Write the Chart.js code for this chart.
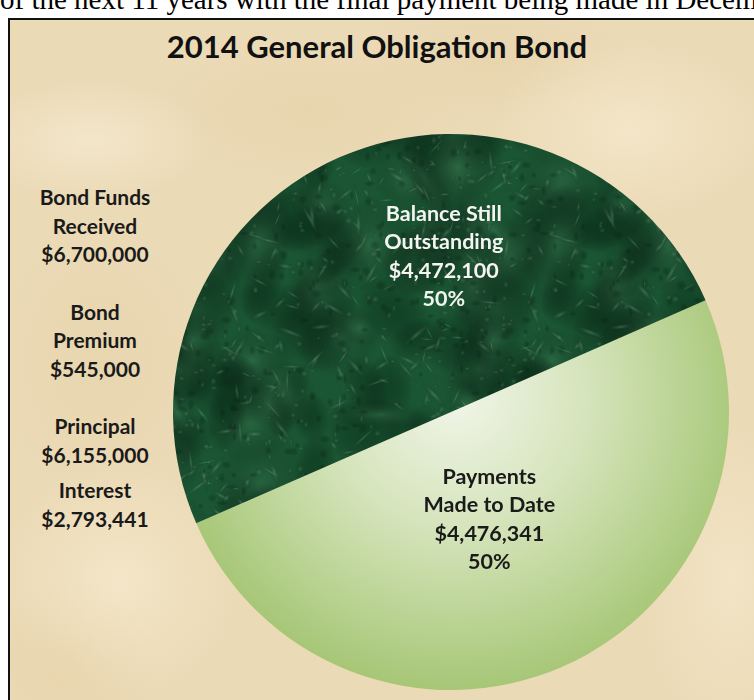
<!DOCTYPE html>
<html>
<head>
<meta charset="utf-8">
<script src="https://cdn.jsdelivr.net/npm/chart.js@4.4.1/dist/chart.umd.min.js"></script>
<style>
  html, body { margin: 0; padding: 0; background: #fff; }
  body { width: 754px; height: 700px; overflow: hidden; position: relative; }
  .lead {
    position: absolute; left: 0; top: -17px; white-space: nowrap;
    font-family: "Liberation Serif", "Times New Roman", serif; font-size: 29px; color: #000;
  }
  .panel {
    position: absolute; left: 8px; top: 18px; width: 760px; height: 700px;
    border-left: 2px solid #111; border-top: 2px solid #111;
    background-color: #ebdab6;
    background-image:
      radial-gradient(ellipse 120px 60px at 80px 120px, rgba(246,235,210,0.7), transparent),
      radial-gradient(ellipse 160px 70px at 300px 90px, rgba(228,208,166,0.5), transparent),
      radial-gradient(ellipse 140px 90px at 620px 110px, rgba(246,234,206,0.7), transparent),
      radial-gradient(ellipse 110px 140px at 90px 340px, rgba(229,210,168,0.5), transparent),
      radial-gradient(ellipse 120px 120px at 110px 560px, rgba(246,234,206,0.7), transparent),
      radial-gradient(ellipse 90px 80px at 60px 640px, rgba(228,206,162,0.5), transparent),
      radial-gradient(ellipse 90px 160px at 720px 560px, rgba(245,232,204,0.7), transparent),
      radial-gradient(ellipse 140px 60px at 480px 40px, rgba(229,208,166,0.5), transparent);
  }
  .title {
    position: absolute; left: 0; width: 754px; top: 27px; text-align: center;
    font-family: Lato, "Open Sans", sans-serif; font-weight: 700; font-size: 31px; color: #111;
  }
  .side {
    position: absolute; left: 0; width: 190px; top: 183px; text-align: center;
    font-family: Lato, "Open Sans", sans-serif; font-weight: 700; font-size: 21px;
    line-height: 28.5px; color: #1a1a1a;
  }
  .side div { margin-bottom: 29px; }
  .side div:nth-child(3) { margin-bottom: 7px; }
  #pie { position: absolute; left: 173px; top: 134px; }
</style>
</head>
<body>
<div class="lead">of the next 11 years with the final payment being made in December</div>
<div class="panel"></div>
<div class="title">2014 General Obligation Bond</div>
<div class="side" id="side"></div>
<canvas id="pie" width="556" height="556"></canvas>
<script>
  // slices
  const categories = [['Payments', 'Made to Date'], ['Balance Still', 'Outstanding']];
  const values = [4476341, 4472100];

  // summary figures on the left
  const sideLabels = [['Bond Funds', 'Received'], ['Bond', 'Premium'], ['Principal'], ['Interest']];
  const sideValues = [6700000, 545000, 6155000, 2793441];

  const money = (v) => '$' + v.toLocaleString('en-US');

  document.getElementById('side').innerHTML = sideLabels
    .map((lines, i) => `<div>${lines.join('<br>')}<br>${money(sideValues[i])}</div>`)
    .join('');

  // marble texture for the dark slice (tileable)
  const marble = (() => {
    const S = 300;
    const c = document.createElement('canvas');
    c.width = S; c.height = S;
    const g = c.getContext('2d');
    g.fillStyle = '#1a5633';
    g.fillRect(0, 0, S, S);
    let seed = 11;
    const rnd = () => { seed = (seed * 16807) % 2147483647; return seed / 2147483647; };
    const blob = (x, y, rx, ry, rot, col) => {
      for (const ox of [-S, 0, S]) for (const oy of [-S, 0, S]) {
        g.save();
        g.translate(x + ox, y + oy);
        g.rotate(rot);
        g.scale(rx, ry);
        const grd = g.createRadialGradient(0, 0, 0, 0, 0, 1);
        grd.addColorStop(0, col);
        grd.addColorStop(1, 'rgba(0,0,0,0)');
        g.fillStyle = grd;
        g.fillRect(-1, -1, 2, 2);
        g.restore();
      }
    };
    // large dark and light clouds
    for (let i = 0; i < 60; i++) {
      const light = rnd() > 0.5;
      blob(rnd() * S, rnd() * S, 20 + rnd() * 40, 15 + rnd() * 30, rnd() * Math.PI,
        light ? 'rgba(70,140,95,0.35)' : 'rgba(8,50,26,0.5)');
    }
    // thin elongated light veins
    for (let i = 0; i < 160; i++) {
      blob(rnd() * S, rnd() * S, 6 + rnd() * 16, 1.5 + rnd() * 2.5, rnd() * Math.PI,
        'rgba(120,190,145,0.35)');
    }
    // fine mottling
    for (let i = 0; i < 400; i++) {
      const light = rnd() > 0.5;
      blob(rnd() * S, rnd() * S, 2 + rnd() * 4, 2 + rnd() * 4, 0,
        light ? 'rgba(100,170,125,0.3)' : 'rgba(5,40,20,0.35)');
    }
    return c;
  })();

  const sliceFill = (ctx) => {
    const chart = ctx.chart;
    const area = chart.chartArea;
    if (!area) return '#1a5633';
    const c = chart.ctx;
    if (ctx.dataIndex === 1) return c.createPattern(marble, 'repeat');
    const cx = (area.left + area.right) / 2, cy = (area.top + area.bottom) / 2;
    const r = Math.min(area.right - area.left, area.bottom - area.top) / 2;
    const grd = c.createRadialGradient(cx + 5, cy - 15, 0, cx + 5, cy - 15, r * 1.05);
    grd.addColorStop(0, '#f1f5e8');
    grd.addColorStop(0.45, '#d5e4bb');
    grd.addColorStop(1, '#a7c777');
    return grd;
  };

  // where each slice label sits: angle shift (deg) and distance as share of radius
  const labelPlace = [{ shift: 4, dist: 0.41 }, { shift: 21, dist: 0.56 }];
  const labelColors = ['#1a1a1a', '#f4f4f0'];

  const sliceLabels = {
    id: 'sliceLabels',
    afterDatasetsDraw(chart) {
      const ctx = chart.ctx;
      const total = values.reduce((a, b) => a + b, 0);
      chart.getDatasetMeta(0).data.forEach((arc, i) => {
        const p = arc.getProps(['x', 'y', 'startAngle', 'endAngle', 'outerRadius']);
        const a = (p.startAngle + p.endAngle) / 2 + labelPlace[i].shift * Math.PI / 180;
        const d = p.outerRadius * labelPlace[i].dist;
        const x = p.x + Math.cos(a) * d, y = p.y + Math.sin(a) * d;
        const lines = [...categories[i], money(values[i]), Math.round(values[i] / total * 100) + '%'];
        ctx.save();
        ctx.font = '700 21.5px Lato, "Open Sans", sans-serif';
        ctx.fillStyle = labelColors[i];
        ctx.textAlign = 'center';
        ctx.textBaseline = 'middle';
        const lh = 28.5;
        lines.forEach((t, k) => ctx.fillText(t, x, y + (k - (lines.length - 1) / 2) * lh));
        ctx.restore();
      });
    }
  };

  new Chart(document.getElementById('pie'), {
    type: 'pie',
    data: {
      labels: categories.map((c) => c.join(' ')),
      datasets: [{ data: values, backgroundColor: sliceFill, borderWidth: 0, hoverOffset: 0 }]
    },
    options: {
      responsive: false,
      animation: false,
      rotation: 66.3,
      layout: { padding: 0 },
      plugins: { legend: { display: false }, tooltip: { enabled: false } }
    },
    plugins: [sliceLabels]
  });
</script>
</body>
</html>
